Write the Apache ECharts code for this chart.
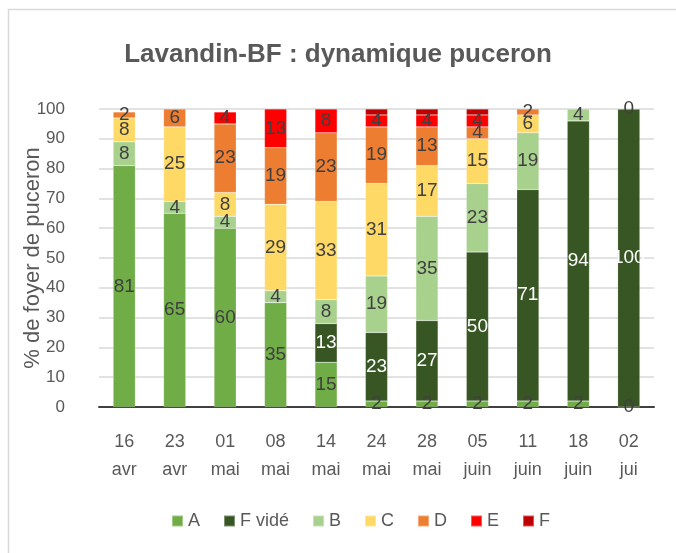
<!DOCTYPE html>
<html>
<head>
<meta charset="utf-8">
<script src="https://cdn.jsdelivr.net/npm/echarts@6/dist/echarts.min.js"></script>
<style>
	html, body { margin: 0; padding: 0; background: #fff; }
	#chart { width: 676px; height: 553px; }
</style>
</head>
<body>
<div id="chart"></div>
<script>
// dates (jour / mois)
const categories = ['16\navr', '23\navr', '01\nmai', '08\nmai', '14\nmai', '24\nmai', '28\nmai', '05\njuin', '11\njuin', '18\njuin', '02\njui'];

// % de foyers par stade (null = pas de segment)
const stadeA     = [81, 65, 60, 35, 15, 2, 2, 2, 2, 2, 0];
const stadeFvide = [null, null, null, null, 13, 23, 27, 50, 71, 94, 100];
const stadeB     = [8, 4, 4, 4, 8, 19, 35, 23, 19, 4, 0];
const stadeC     = [8, 25, 8, 29, 33, 31, 17, 15, 6, null, null];
const stadeD     = [2, 6, 23, 19, 23, 19, 13, 4, 2, null, null];
const stadeE     = [null, null, 4, 13, 8, 4, 4, 4, null, null, null];
const stadeF     = [null, null, null, null, null, 2, 2, 2, null, null, null];

const yTicks = { min: 0, max: 100, interval: 10 };

const txt = '#595959';
const font = 'Liberation Sans';

const serie = (name, data, color, labelColor, showLabel) => ({
	name: name,
	type: 'bar',
	stack: 'total',
	barWidth: '44%',
	data: data,
	itemStyle: { color: color, borderColor: 'rgba(255,255,255,0.35)', borderWidth: 0.5 },
	label: {
		show: showLabel,
		position: 'inside',
		color: labelColor,
		fontSize: 19,
		fontFamily: font,
		formatter: p => (p.value === null || p.value === undefined ? '' : p.value)
	}
});

const chart = echarts.init(document.getElementById('chart'));
chart.setOption({
	animation: false,
	textStyle: { fontFamily: font },
	graphic: [{
		type: 'rect',
		shape: { x: 8.5, y: 9.5, width: 700, height: 600 },
		style: { fill: 'none', stroke: '#d9d9d9', lineWidth: 1.5 },
		silent: true
	}],
	title: {
		text: 'Lavandin-BF : dynamique puceron',
		left: 'center',
		top: 37,
		textStyle: { fontSize: 26, fontWeight: 'bold', color: txt, fontFamily: font }
	},
	legend: {
		bottom: 18,
		left: 166,
		icon: 'rect',
		itemWidth: 11,
		itemHeight: 11,
		itemGap: 23,
		textStyle: { fontSize: 18, color: txt, fontFamily: font },
		data: ['A', 'F vidé', 'B', 'C', 'D', 'E', 'F']
	},
	grid: { left: 99, right: 22, top: 109, bottom: 146 },
	xAxis: {
		type: 'category',
		data: categories,
		axisLine: { lineStyle: { color: '#404040', width: 2 } },
		axisTick: { show: false },
		axisLabel: { color: txt, fontSize: 18, lineHeight: 28, margin: 21, interval: 0 }
	},
	yAxis: {
		type: 'value',
		min: yTicks.min,
		max: yTicks.max,
		interval: yTicks.interval,
		name: '% de foyer de puceron',
		nameLocation: 'middle',
		nameGap: 55,
		nameMoveOverlap: false,
		nameTextStyle: { fontSize: 22, color: txt },
		axisLabel: { color: txt, fontSize: 17, margin: 34 },
		splitLine: { lineStyle: { color: '#d9d9d9', width: 1.5 } }
	},
	series: [
		serie('A', stadeA, '#70AD47', '#404040', true),
		serie('F vidé', stadeFvide, '#375623', '#ffffff', true),
		serie('B', stadeB, '#A9D18E', '#404040', true),
		serie('C', stadeC, '#FFD966', '#404040', true),
		serie('D', stadeD, '#ED7D31', '#404040', true),
		serie('E', stadeE, '#FF0000', '#404040', true),
		serie('F', stadeF, '#C00000', '#404040', false)
	]
});
</script>
</body>
</html>
